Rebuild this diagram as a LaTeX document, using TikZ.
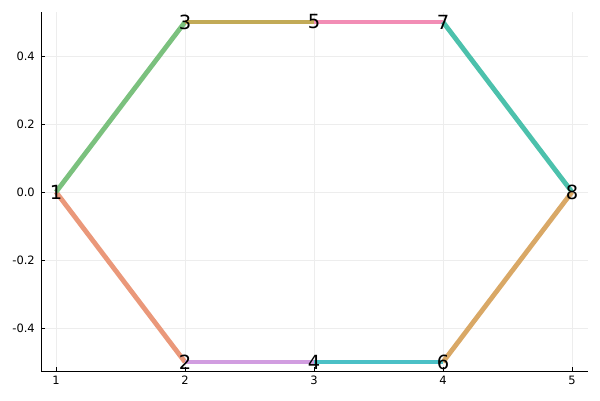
\documentclass[tikz,border=0pt]{standalone}
\usepackage{fontspec}
\setmainfont{DejaVu Sans}
\definecolor{cA}{HTML}{EA987A}
\definecolor{cB}{HTML}{7BC17E}
\definecolor{cC}{HTML}{C2AA57}
\definecolor{cD}{HTML}{F28DB5}
\definecolor{cE}{HTML}{4CC1AC}
\definecolor{cF}{HTML}{D9A866}
\definecolor{cG}{HTML}{4BC0C6}
\definecolor{cH}{HTML}{D19DE0}
\definecolor{gridc}{HTML}{EDEDED}
\begin{document}
\begin{tikzpicture}[x=1pt,y=-1pt,
  gridline/.style={draw=gridc,line width=0.6pt},
  axisline/.style={draw=black,line width=1pt},
  tickmark/.style={draw=black,line width=0.6pt},
  ticklabel/.style={font=\fontsize{11.5}{13}\selectfont,inner sep=0pt},
  vlabel/.style={font=\fontsize{19.5}{21}\selectfont,inner sep=0pt,text=black},
  edge/.style={line width=4.8pt}]
\useasboundingbox (0,0) rectangle (600,400);
% grid
\foreach \gx in {56,185,314,443,572} \draw[gridline] (\gx,12) -- (\gx,371);
\foreach \gy in {56,124,192,260,328} \draw[gridline] (41,\gy) -- (588,\gy);
% axes
\draw[axisline] (41,12) -- (41,371) -- (588,371);
% ticks
\foreach \gx/\t in {56/1,185/2,314/3,443/4,572/5}{
  \draw[tickmark] (\gx,371) -- (\gx,367);
  \node[ticklabel,anchor=north] (xt\t) at (\gx,376) {\t};
}
\foreach \gy/\t/\n in {56/0.4/a,124/0.2/b,192/0.0/c,260/-0.2/d,328/-0.4/e}{
  \draw[tickmark] (41,\gy) -- (45,\gy);
  \node[ticklabel,anchor=east] (yt\n) at (35,\gy) {\t};
}
% vertices
\coordinate (p1) at (56,192);
\coordinate (p2) at (185,362);
\coordinate (p3) at (185,22);
\coordinate (p4) at (314,362);
\coordinate (p5) at (314,22);
\coordinate (p6) at (443,362);
\coordinate (p7) at (443,22);
\coordinate (p8) at (572,192);
% edges
\draw[edge,cA] (p1) -- (p2);
\draw[edge,cB] (p1) -- (p3);
\draw[edge,cC] (p3) -- (p5);
\draw[edge,cD] (p5) -- (p7);
\draw[edge,cE] (p7) -- (p8);
\draw[edge,cF] (p8) -- (p6);
\draw[edge,cG] (p6) -- (p4);
\draw[edge,cH] (p4) -- (p2);
% labels
\foreach \i in {1,...,8} \node[vlabel] (n\i) at (p\i) {\i};
\end{tikzpicture}
\end{document}
